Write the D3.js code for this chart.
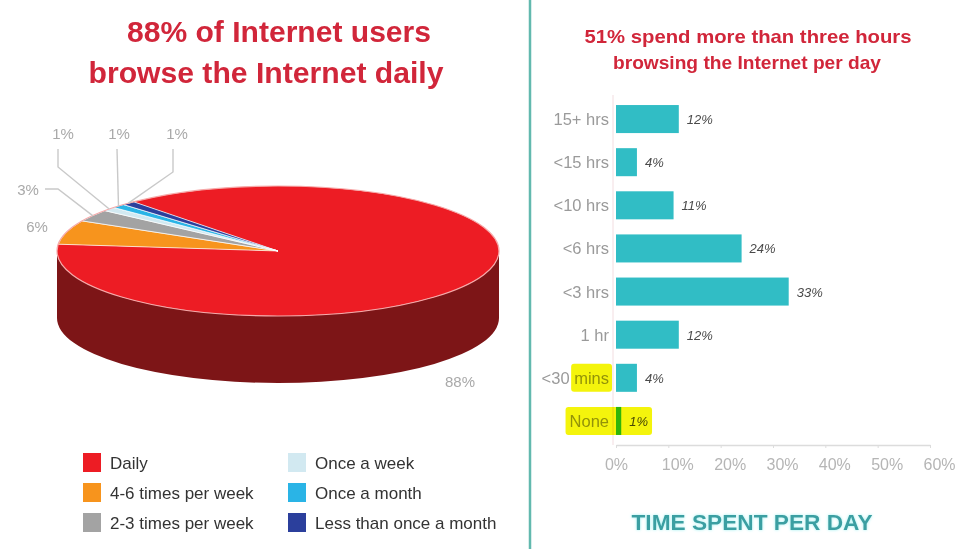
<!DOCTYPE html>
<html>
<head>
<meta charset="utf-8">
<script src="https://cdn.jsdelivr.net/npm/d3@7"></script>
<style>
  html, body { margin: 0; padding: 0; background: #fff; }
  svg { display: block; font-family: "Liberation Sans", Arial, sans-serif; }
</style>
</head>
<body>
<svg id="chart" width="960" height="549"></svg>
<script>
// ---- data ----
const freqLabels = ["Daily", "4-6 times per week", "2-3 times per week",
                    "Once a week", "Once a month", "Less than once a month"];
const freqShares = [88, 6, 3, 1, 1, 1];

const timeCats = ["15+ hrs", "<15 hrs", "<10 hrs", "<6 hrs", "<3 hrs", "1 hr", "<30 mins", "None"];
const timeShares = [12, 4, 11, 24, 33, 12, 4, 1];
const xTickValues = [0, 10, 20, 30, 40, 50, 60];

// ---- styling ----
const freqColors = ["#ed1c24", "#f7941d", "#a3a3a3", "#d2e9f1", "#2ab4e6", "#2b3f9c"];
const freqSide   = ["#7d1517", "#9a5a10", "#666666", "#8aa0a8", "#1a6f90", "#1a2660"];
const titleRed = "#d1263a";
const barColor = "#31bdc5";

const svg = d3.select("#chart");

// divider between the two panels
svg.append("line").attr("x1", 530).attr("x2", 530).attr("y1", 0).attr("y2", 549)
  .attr("stroke", "#62b9ae").attr("stroke-width", 2.5);

// ================= left panel: 3D pie =================
const left = svg.append("g");

const titleL = left.append("text").attr("fill", titleRed).attr("font-weight", "bold")
  .attr("font-size", 30).attr("text-anchor", "middle");
titleL.append("tspan").attr("x", 279).attr("y", 42).attr("textLength", 304)
  .attr("lengthAdjust", "spacingAndGlyphs").text("88% of  Internet users");
titleL.append("tspan").attr("x", 266).attr("y", 83).attr("textLength", 355)
  .attr("lengthAdjust", "spacingAndGlyphs").text("browse the Internet daily");

const cx = 278, cy = 251, rx = 221, ry = 65, depth = 67;
const deg = Math.PI / 180;

const pie = d3.pie().sort(null).value(d => d)
  .startAngle(319.2 * deg).endAngle(319.2 * deg + 2 * Math.PI);
const arcs = pie(freqShares);

// pie angle (from 12 o'clock, clockwise) -> ellipse parameter (from 3 o'clock, clockwise on screen)
const toTheta = a => a - Math.PI / 2;
const pt = (t, dy = 0) => [cx + rx * Math.cos(t), cy + ry * Math.sin(t) + dy];

// visible front wall (theta in [0, PI])
const sides = left.append("g");
arcs.forEach((a, i) => {
  const t1 = toTheta(a.startAngle), t2 = toTheta(a.endAngle);
  [-2 * Math.PI, 0, 2 * Math.PI].forEach(k => {
    const s = Math.max(t1 + k, 0), e = Math.min(t2 + k, Math.PI);
    if (e <= s) return;
    const p1 = pt(s), p2 = pt(e), p3 = pt(e, depth), p4 = pt(s, depth);
    sides.append("path")
      .attr("d", `M${p1}A${rx},${ry} 0 0 1 ${p2}L${p3}A${rx},${ry} 0 0 0 ${p4}Z`)
      .attr("fill", freqSide[i]);
  });
});

// top face slices
const tops = left.append("g");
arcs.forEach((a, i) => {
  const t1 = toTheta(a.startAngle), t2 = toTheta(a.endAngle);
  const large = (t2 - t1) > Math.PI ? 1 : 0;
  const p1 = pt(t1), p2 = pt(t2);
  tops.append("path")
    .attr("d", `M${cx},${cy}L${p1}A${rx},${ry} 0 ${large} 1 ${p2}Z`)
    .attr("fill", freqColors[i])
    .attr("stroke", i === 0 ? "none" : "#ffffff").attr("stroke-width", 0.7)
    .attr("stroke-linejoin", "round");
});
// light rim along the top edge
left.append("ellipse").attr("cx", cx).attr("cy", cy).attr("rx", rx).attr("ry", ry)
  .attr("fill", "none").attr("stroke", "#f6a9a9").attr("stroke-width", 1.2);

// slice labels with leader lines
const labelLayout = [
  { i: 0, x: 460, y: 387, line: null },
  { i: 1, x: 37,  y: 232, line: null },
  { i: 2, x: 28,  y: 195, line: [[45, 189], [58, 189]] },
  { i: 3, x: 63,  y: 139, line: [[58, 149], [58, 167]] },
  { i: 4, x: 119, y: 139, line: [[117, 149]] },
  { i: 5, x: 177, y: 139, line: [[173, 149], [173, 172]] }
];
const labels = left.append("g");
labelLayout.forEach(l => {
  const a = arcs[l.i];
  if (l.line) {
    const rim = pt(toTheta((a.startAngle + a.endAngle) / 2));
    labels.append("path")
      .attr("d", d3.line()(l.line.concat([rim])))
      .attr("fill", "none").attr("stroke", "#c9c9c9").attr("stroke-width", 1.4);
  }
  labels.append("text").attr("x", l.x).attr("y", l.y).attr("text-anchor", "middle")
    .attr("font-size", 15).attr("fill", "#a9a9a9").text(freqShares[l.i] + "%");
});

// legend
const legend = left.append("g");
freqLabels.forEach((name, i) => {
  const col = Math.floor(i / 3), row = i % 3;
  const gx = col === 0 ? 83 : 288, gy = 453 + row * 30;
  legend.append("rect").attr("x", gx).attr("y", gy).attr("width", 18).attr("height", 19)
    .attr("fill", freqColors[i]);
  legend.append("text").attr("x", gx + 27).attr("y", gy + 16)
    .attr("font-size", 17).attr("fill", "#333").text(name);
});

// ================= right panel: bars =================
const right = svg.append("g");

const titleR = right.append("text").attr("fill", titleRed).attr("font-weight", "bold")
  .attr("font-size", 19).attr("text-anchor", "middle");
titleR.append("tspan").attr("x", 748).attr("y", 43).attr("textLength", 327)
  .attr("lengthAdjust", "spacingAndGlyphs").text("51% spend more than three hours");
titleR.append("tspan").attr("x", 747).attr("y", 69).attr("textLength", 268)
  .attr("lengthAdjust", "spacingAndGlyphs").text("browsing the Internet per day");

const x = d3.scaleLinear().domain([0, 60]).range([616, 930]);
const y = d3.scaleBand().domain(timeCats).range([97.5, 442.5])
  .paddingInner(0.35).paddingOuter(0.175);

// y axis line
right.append("line").attr("x1", 613).attr("x2", 613).attr("y1", 95).attr("y2", 445)
  .attr("stroke", "#f2dde0").attr("stroke-width", 1);

// x axis
const xAxis = right.append("g").attr("transform", "translate(0,445)")
  .call(d3.axisBottom(x).tickValues(xTickValues).tickFormat(d => d + "%")
    .tickSize(3).tickSizeOuter(0).tickPadding(11));
xAxis.select(".domain").attr("stroke", "#dcdcdc").attr("stroke-width", 1.5);
xAxis.selectAll(".tick line").attr("stroke", "#dcdcdc");
xAxis.selectAll(".tick text").attr("font-size", 16).attr("fill", "#b5b5b5")
  .attr("font-family", "'Liberation Sans', Arial, sans-serif")
  .attr("dx", d => d === 0 ? 0 : 9);

// bars
right.append("g").selectAll("rect").data(timeShares).join("rect")
  .attr("x", x(0)).attr("y", (d, i) => y(timeCats[i]))
  .attr("width", d => x(d) - x(0)).attr("height", y.bandwidth())
  .attr("fill", barColor);

// category labels
const catText = right.append("g").selectAll("text").data(timeCats).join("text")
  .attr("x", 609).attr("y", d => y(d) + y.bandwidth() / 2 + 6)
  .attr("text-anchor", "end").attr("font-size", 16.5).attr("fill", "#9a9a9a")
  .text(d => d);

// value labels
const valText = right.append("g").selectAll("text").data(timeShares).join("text")
  .attr("x", d => x(d) + 8).attr("y", (d, i) => y(timeCats[i]) + y.bandwidth() / 2 + 5)
  .attr("font-size", 13).attr("font-style", "italic").attr("fill", "#4a4a4a")
  .text(d => d + "%");

// yellow highlighter marks
const hl = right.append("g").style("mix-blend-mode", "multiply");
{
  // "mins" in "<30 mins"
  const iM = timeCats.indexOf("<30 mins");
  const node = catText.nodes()[iM];
  const w = node.getSubStringLength(4, 4);
  hl.append("rect").attr("x", 609 - w - 3).attr("y", y(timeCats[iM]))
    .attr("width", w + 6).attr("height", y.bandwidth()).attr("rx", 3)
    .attr("fill", "#f4f40c");
  // "None" through its value label
  const iN = timeCats.indexOf("None");
  const wN = catText.nodes()[iN].getComputedTextLength();
  const vNode = valText.nodes()[iN];
  const vEnd = x(timeShares[iN]) + 8 + vNode.getComputedTextLength();
  hl.append("rect").attr("x", 609 - wN - 4).attr("y", y(timeCats[iN]))
    .attr("width", vEnd + 4 - (609 - wN - 4)).attr("height", y.bandwidth()).attr("rx", 3)
    .attr("fill", "#f4f40c");
}

// bottom caption
const defs = svg.append("defs");
const glow = defs.append("filter").attr("id", "glow").attr("x", "-10%").attr("y", "-30%")
  .attr("width", "120%").attr("height", "160%");
glow.append("feGaussianBlur").attr("in", "SourceAlpha").attr("stdDeviation", 1.6).attr("result", "b");
glow.append("feFlood").attr("flood-color", "#9ff2f2").attr("result", "c");
glow.append("feComposite").attr("in", "c").attr("in2", "b").attr("operator", "in").attr("result", "g");
const fm = glow.append("feMerge");
fm.append("feMergeNode").attr("in", "g");
fm.append("feMergeNode").attr("in", "SourceGraphic");

right.append("text").attr("x", 752).attr("y", 530).attr("text-anchor", "middle")
  .attr("font-size", 22).attr("font-weight", "bold").attr("fill", "#3a9fa2")
  .attr("textLength", 241).attr("lengthAdjust", "spacingAndGlyphs")
  .attr("filter", "url(#glow)")
  .text("TIME SPENT PER DAY");
</script>
</body>
</html>
